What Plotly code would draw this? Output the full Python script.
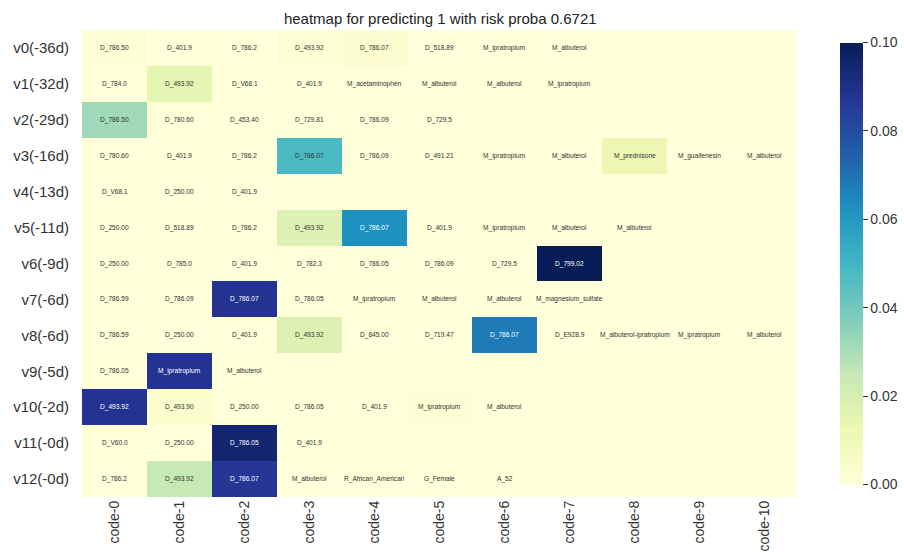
import plotly.graph_objects as go
import plotly.express as px

TITLE = "heatmap for predicting 1 with risk proba 0.6721"

ROWS = ["v0(-36d)", "v1(-32d)", "v2(-29d)", "v3(-16d)", "v4(-13d)", "v5(-11d)", "v6(-9d)",
        "v7(-6d)", "v8(-6d)", "v9(-5d)", "v10(-2d)", "v11(-0d)", "v12(-0d)"]
COLS = [f"code-{i}" for i in range(11)]

CODES = [
    ["D_786.50", "D_401.9", "D_786.2", "D_493.92", "D_786.07", "D_518.89", "M_ipratropium", "M_albuterol"],
    ["D_784.0", "D_493.92", "D_V68.1", "D_401.9", "M_acetaminophen", "M_albuterol", "M_albuterol", "M_ipratropium"],
    ["D_786.50", "D_780.60", "D_453.40", "D_729.81", "D_786.09", "D_729.5"],
    ["D_780.60", "D_401.9", "D_786.2", "D_786.07", "D_786.09", "D_491.21", "M_ipratropium", "M_albuterol",
     "M_prednisone", "M_guaifenesin", "M_albuterol"],
    ["D_V68.1", "D_250.00", "D_401.9"],
    ["D_250.00", "D_518.89", "D_786.2", "D_493.92", "D_786.07", "D_401.9", "M_ipratropium", "M_albuterol",
     "M_albuterol"],
    ["D_250.00", "D_785.0", "D_401.9", "D_782.3", "D_786.05", "D_786.09", "D_729.5", "D_799.02"],
    ["D_786.59", "D_786.09", "D_786.07", "D_786.05", "M_ipratropium", "M_albuterol", "M_albuterol",
     "M_magnesium_sulfate"],
    ["D_786.59", "D_250.00", "D_401.9", "D_493.92", "D_845.00", "D_719.47", "D_786.07", "D_E928.9",
     "M_albuterol-ipratropium", "M_ipratropium", "M_albuterol"],
    ["D_786.05", "M_ipratropium", "M_albuterol"],
    ["D_493.92", "D_493.90", "D_250.00", "D_786.05", "D_401.9", "M_ipratropium", "M_albuterol"],
    ["D_V60.0", "D_250.00", "D_786.05", "D_401.9"],
    ["D_786.2", "D_493.92", "D_786.07", "M_albuterol", "R_African_American", "G_Female", "A_52"],
]

WEIGHTS = [
    [0.001, 0, 0, 0.002, 0.003, 0, 0, 0, 0, 0, 0],
    [0, 0.015, 0, 0, 0, 0, 0, 0, 0, 0, 0],
    [0.032, 0, 0, 0, 0, 0, 0, 0, 0, 0, 0],
    [0, 0, 0, 0.048, 0, 0, 0, 0, 0.012, 0, 0],
    [0, 0, 0, 0, 0, 0, 0, 0, 0, 0, 0],
    [0, 0, 0, 0.018, 0.062, 0, 0, 0, 0, 0, 0],
    [0, 0, 0, 0, 0, 0, 0, 0.100, 0, 0, 0],
    [0, 0, 0.088, 0, 0, 0, 0, 0, 0, 0, 0],
    [0, 0, 0, 0.018, 0, 0, 0.068, 0, 0, 0, 0],
    [0, 0.088, 0, 0, 0, 0, 0, 0, 0, 0, 0],
    [0.088, 0.004, 0, 0, 0, 0.002, 0, 0, 0, 0, 0],
    [0, 0, 0.095, 0, 0, 0, 0, 0, 0, 0, 0],
    [0, 0.025, 0.087, 0, 0, 0, 0, 0, 0, 0, 0],
]

scale = px.colors.sequential.YlGnBu

fig = go.Figure(go.Heatmap(
    z=WEIGHTS, x=COLS, y=ROWS,
    colorscale=scale, zmin=0, zmax=0.1,
    colorbar=dict(
        thickness=23, len=0.99, x=1.06, xanchor="left", xpad=0, y=0.5, yanchor="middle",
        outlinewidth=0, ticks="outside", ticklen=5, tickcolor="#333",
        tickvals=[0, 0.02, 0.04, 0.06, 0.08, 0.10],
        ticktext=["0.00", "0.02", "0.04", "0.06", "0.08", "0.10"],
        tickfont=dict(size=14, color="#333"),
    ),
    hoverinfo="skip",
))

for r, row in enumerate(CODES):
    for c, code in enumerate(row):
        dark = WEIGHTS[r][c] > 0.055
        fig.add_annotation(
            x=COLS[c], y=ROWS[r], text=code, showarrow=False,
            font=dict(size=6.6, color="#ffffff" if dark else "#333333"),
        )

fig.update_layout(
    width=904, height=560,
    title=dict(text=TITLE, x=0.487, xanchor="center", y=0.967, yanchor="middle",
               font=dict(size=15, color="#222")),
    margin=dict(l=82, r=107, t=30, b=63, autoexpand=False),
    paper_bgcolor="#ffffff",
    plot_bgcolor="#ffffd9",
    font=dict(family="Liberation Sans, Arial, sans-serif", color="#333"),
)
fig.update_xaxes(tickangle=-90, tickfont=dict(size=14), showgrid=False, zeroline=False, ticks="")
fig.update_yaxes(autorange="reversed", tickfont=dict(size=15), showgrid=False, zeroline=False,
                 ticks="", ticklabelstandoff=12)

# page body has a default 8px margin; drop it so the figure sits at the window corner
fig.write_html("out.html", config={"displayModeBar": False},
               post_script="document.body.style.margin='0';")
